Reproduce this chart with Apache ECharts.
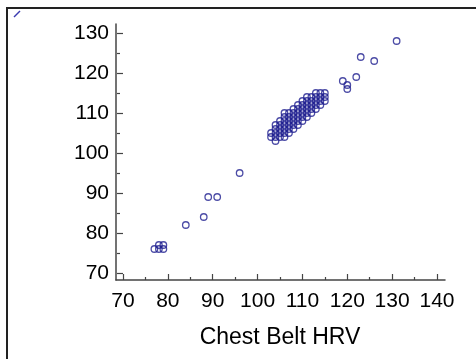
<!DOCTYPE html>
<html>
<head>
<meta charset="utf-8">
<script src="https://cdn.jsdelivr.net/npm/echarts@6.0.0/dist/echarts.min.js"></script>
<style>
html,body{margin:0;padding:0;background:#fff;}
#hrv-pic{width:476px;height:359px;}
</style>
</head>
<body>
<div id="hrv-pic"></div>
<script>
// 胸带HRV (x) / 设备HRV (y)
var beltHrv = [77,78,78,79,79,84,88,89,91,96,119,120,120,122,123,126,131,
	113,114,115,
	111,112,113,114,115,
	110,111,112,113,114,115,
	109,110,111,112,113,114,
	108,109,110,111,112,113,
	106,107,108,109,110,111,112,
	106,107,108,109,110,111,
	105,106,107,108,109,110,
	104,105,106,107,108,109,
	104,105,106,107,108,
	103,104,105,106,107,
	103,104,105,106,
	104];
var deviceHrv = [76,76,77,76,77,82,84,89,89,95,118,117,116,119,124,123,128,
	115,115,115,
	114,114,114,114,114,
	113,113,113,113,113,113,
	112,112,112,112,112,112,
	111,111,111,111,111,111,
	110,110,110,110,110,110,110,
	109,109,109,109,109,109,
	108,108,108,108,108,108,
	107,107,107,107,107,107,
	106,106,106,106,106,
	105,105,105,105,105,
	104,104,104,104,
	103];
var xTicks = [70, 140, 10];
var yTicks = [70, 130, 10];
var xName = 'Chest Belt HRV';

var fontName = '"Liberation Sans", Arial, sans-serif';
var axisColor = '#444';

function drawChart() {
	var chart = echarts.init(document.getElementById('hrv-pic'), null, {renderer: 'canvas'});
	var pts = [];
	for (var i = 0; i < beltHrv.length; i++) {
		pts.push([beltHrv[i], deviceHrv[i]]);
	}
	option = {
		animation: false,
		backgroundColor: '#fff',
		grid: [
			// 轴线用(略长)
			{left: 116, right: 31, top: 24, bottom: 79, outerBoundsMode: 'none'},
			// 数据区
			{left: 123, right: 39, top: 33, bottom: 86, outerBoundsMode: 'none'}
		],
		xAxis: [
			{
				gridIndex: 0, type: 'value', min: 68.4, max: 141.8,
				axisLine: {show: true, lineStyle: {color: axisColor, width: 1.5}},
				axisTick: {show: false}, axisLabel: {show: false}, splitLine: {show: false}
			},
			{
				gridIndex: 1, type: 'value', min: xTicks[0], max: xTicks[1], interval: xTicks[2],
				offset: 7,
				name: xName, nameLocation: 'middle', nameGap: 46,
				nameTextStyle: {color: '#000', fontSize: 23, fontFamily: fontName},
				axisLine: {show: false},
				axisTick: {show: true, inside: true, length: 6, lineStyle: {color: axisColor, width: 1.2}},
				minorTick: {show: true, splitNumber: 2, length: 3, lineStyle: {color: axisColor, width: 1.2}},
				axisLabel: {color: '#000', fontSize: 21, fontFamily: fontName, margin: 11},
				splitLine: {show: false}
			}
		],
		yAxis: [
			{
				gridIndex: 0, type: 'value', min: 68.25, max: 132.25,
				axisLine: {show: true, lineStyle: {color: axisColor, width: 1.5}},
				axisTick: {show: false}, axisLabel: {show: false}, splitLine: {show: false}
			},
			{
				gridIndex: 1, type: 'value', min: yTicks[0], max: yTicks[1], interval: yTicks[2],
				offset: 6,
				axisLine: {show: false},
				axisTick: {show: true, inside: true, length: 6, lineStyle: {color: axisColor, width: 1.2}},
				minorTick: {show: true, splitNumber: 2, length: 3, lineStyle: {color: axisColor, width: 1.2}},
				axisLabel: {color: '#000', fontSize: 21, fontFamily: fontName, margin: 8},
				splitLine: {show: false}
			}
		],
		series: [
			{
				type: 'scatter',
				xAxisIndex: 1, yAxisIndex: 1,
				symbol: 'circle', symbolSize: 6.5,
				itemStyle: {color: 'rgba(255,255,255,0)', borderColor: '#1f1f90', borderWidth: 1.3},
				data: pts
			}
		],
		graphic: [
			// 外框(左、上)
			{type: 'polyline', shape: {points: [[7, 359], [7, 8], [476, 8]]},
				style: {stroke: '#222', lineWidth: 2, fill: null}},
			// 左上角小标记
			{type: 'line', shape: {x1: 14, y1: 17, x2: 20, y2: 11},
				style: {stroke: '#3a3ab0', lineWidth: 1.5}}
		]
	};
	chart.setOption(option);
}
drawChart();
</script>
</body>
</html>
